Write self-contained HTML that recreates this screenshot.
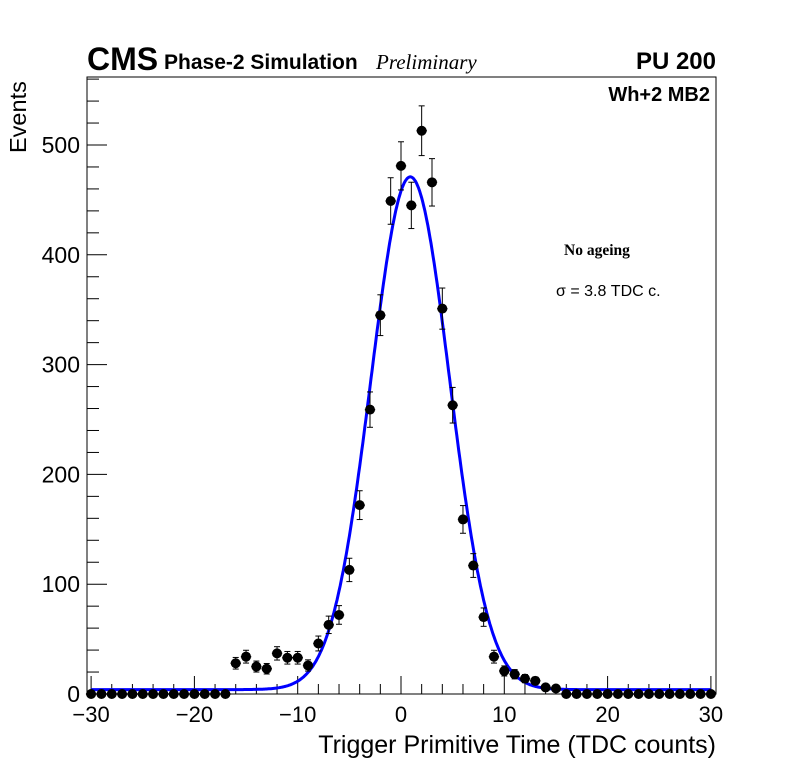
<!DOCTYPE html>
<html><head><meta charset="utf-8"><style>
body{margin:0;background:#fff}
svg{display:block;font-family:"Liberation Sans",sans-serif}
</style></head><body>
<svg id="chart" width="796" height="772">
<rect x="0" y="0" width="796" height="772" fill="#fff"/>
<g id="ticks"></g>
<g id="fit"></g>
<g id="points"></g>
<rect x="87" y="77" width="629" height="617" fill="none" stroke="#000" stroke-width="1"/>
<text x="87" y="70" font-size="32" font-weight="bold">CMS</text>
<text x="164" y="69" font-size="21" font-weight="bold">Phase-2 Simulation</text>
<text x="376" y="69" font-size="21" font-style="italic" font-family="Liberation Serif, serif">Preliminary</text>
<text x="716" y="69" font-size="24" font-weight="bold" text-anchor="end">PU 200</text>
<text x="710" y="101" font-size="20" font-weight="bold" text-anchor="end">Wh+2 MB2</text>
<text x="564" y="255" font-size="15.5" font-weight="bold" font-family="Liberation Serif, serif">No ageing</text>
<text x="556" y="296" font-size="16">σ = 3.8 TDC c.</text>
<text x="716" y="753" font-size="25" text-anchor="end">Trigger Primitive Time (TDC counts)</text>
<text transform="translate(26,153) rotate(-90)" font-size="23.5" text-anchor="start">Events</text>
</svg>
<script>
const binCenters=[-30,-29,-28,-27,-26,-25,-24,-23,-22,-21,-20,-19,-18,-17,-16,-15,-14,-13,-12,-11,-10,-9,-8,-7,-6,-5,-4,-3,-2,-1,0,1,2,3,4,5,6,7,8,9,10,11,12,13,14,15,16,17,18,19,20,21,22,23,24,25,26,27,28,29,30];
const counts=[0,0,0,0,0,0,0,0,0,0,0,0,0,0,28,34,25,23,37,33,33,26,46,63,72,113,172,259,345,449,481,445,513,466,351,263,159,117,70,34,21,18,14,12,6,5,0,0,0,0,0,0,0,0,0,0,0,0,0,0,0];
const fitParams=[467,0.9,3.8,4]; // amplitude, mean, sigma, constant
const xTickLabels=["\u221230","\u221220","\u221210","0","10","20","30"];
const xTickValues=[-30,-20,-10,0,10,20,30];
const yTickLabels=["0","100","200","300","400","500"];
const yTickValues=[0,100,200,300,400,500];

const NS="http://www.w3.org/2000/svg";
const X=v=>401+v*10.33;
const Y=v=>694-v*1.098;
function mk(tag,attrs,parent){const e=document.createElementNS(NS,tag);for(const k in attrs)e.setAttribute(k,attrs[k]);parent.appendChild(e);return e;}

const tg=document.getElementById('ticks');
for(let v=-30;v<=30;v+=2){const major=v%10===0;const t=mk('line',{x1:X(v),x2:X(v),y1:694,y2:694-(major?18:10),stroke:'#000'},tg);

}
for(let v=0;v<=560;v+=20){const major=v%100===0;const t=mk('line',{x1:87,x2:87+(major?20:12),y1:Y(v),y2:Y(v),stroke:'#000'},tg);

}
xTickValues.forEach((v,i)=>{const t=mk('text',{x:X(v),y:722,'font-size':22,'text-anchor':'middle'},tg);t.textContent=xTickLabels[i];

});
yTickValues.forEach((v,i)=>{const t=mk('text',{x:80,y:Y(v)+8,'font-size':23,'text-anchor':'end'},tg);t.textContent=yTickLabels[i];

});

const fg=document.getElementById('fit');
let d='';for(let v=-30;v<=30.001;v+=0.1){const f=fitParams[0]*Math.exp(-0.5*Math.pow((v-fitParams[1])/fitParams[2],2))+fitParams[3];d+=(d?'L':'M')+X(v).toFixed(1)+','+Y(f).toFixed(1);}
const fp=mk('path',{d:d,fill:'none',stroke:'#0000ff','stroke-width':3},fg);



const pg=document.getElementById('points');
binCenters.forEach((c,i)=>{const n=counts[i];const e=Math.sqrt(n);const g=mk('g',{},pg);


mk('line',{x1:X(c-0.5),x2:X(c+0.5),y1:Y(n),y2:Y(n),stroke:'#000','stroke-width':1.5},g);
if(e>0){mk('line',{x1:X(c),x2:X(c),y1:Y(n+e),y2:Y(n-e),stroke:'#000'},g);
mk('line',{x1:X(c)-3,x2:X(c)+3,y1:Y(n+e),y2:Y(n+e),stroke:'#000'},g);
mk('line',{x1:X(c)-3,x2:X(c)+3,y1:Y(n-e),y2:Y(n-e),stroke:'#000'},g);}
mk('circle',{cx:X(c),cy:Y(n),r:5,fill:'#000'},g);});
</script>
</body></html>
